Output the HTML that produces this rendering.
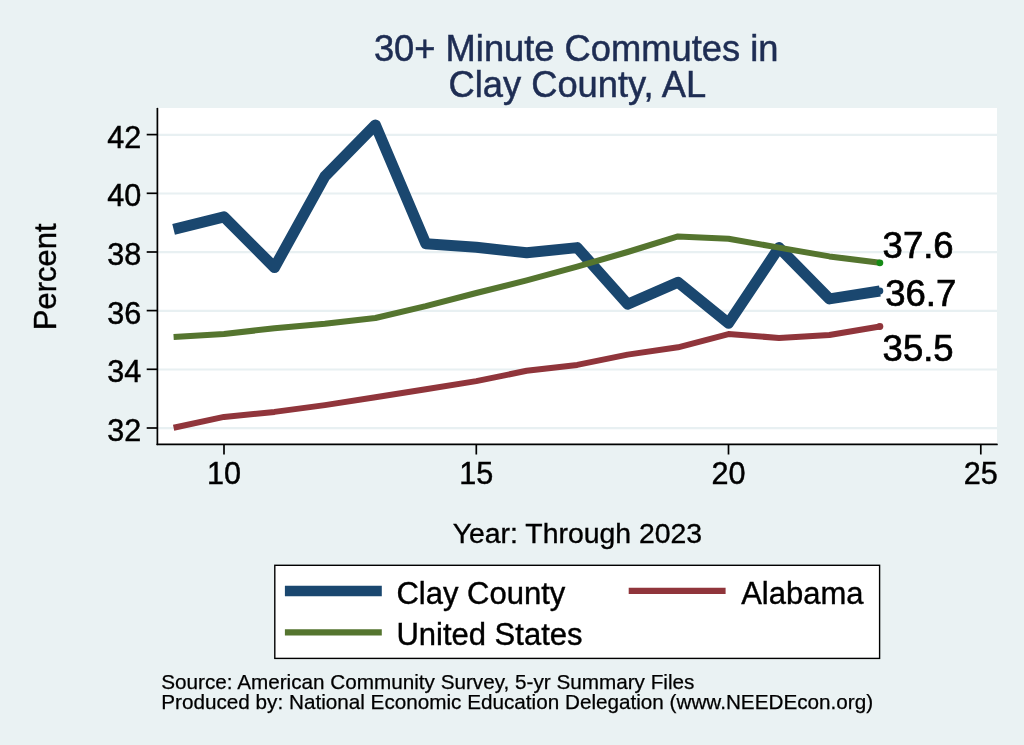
<!DOCTYPE html>
<html><head><meta charset="utf-8"><title>30+ Minute Commutes in Clay County, AL</title>
<style>
html,body{margin:0;padding:0;background:#eaf2f3;}
svg{display:block;font-family:"Liberation Sans",Arial,Helvetica,sans-serif;}
</style></head><body>
<svg width="1024" height="745" viewBox="0 0 1024 745">
<rect width="1024" height="745" fill="#eaf2f3"/>
<rect x="157.5" y="108" width="839.5" height="336.5" fill="#fff"/>
<line x1="158" x2="997" y1="428.2" y2="428.2" stroke="#e8f0f2" stroke-width="2.2"/><line x1="158" x2="997" y1="369.5" y2="369.5" stroke="#e8f0f2" stroke-width="2.2"/><line x1="158" x2="997" y1="310.8" y2="310.8" stroke="#e8f0f2" stroke-width="2.2"/><line x1="158" x2="997" y1="252.2" y2="252.2" stroke="#e8f0f2" stroke-width="2.2"/><line x1="158" x2="997" y1="193.5" y2="193.5" stroke="#e8f0f2" stroke-width="2.2"/><line x1="158" x2="997" y1="134.8" y2="134.8" stroke="#e8f0f2" stroke-width="2.2"/>
<polyline points="173.6,229.4 224.0,216.8 274.5,267.5 324.9,176.3 375.4,124.9 425.8,243.7 476.3,247.3 526.7,252.8 577.2,247.6 627.6,304.2 678.0,282.2 728.5,323.3 779.0,247.6 829.4,298.9 879.9,291.0" fill="none" stroke="#1a476f" stroke-width="11" stroke-linejoin="round"/>
<polyline points="173.6,427.7 224.0,416.9 274.5,411.9 324.9,405.1 375.4,397.2 425.8,389.3 476.3,381.1 526.7,370.8 577.2,364.9 627.6,354.6 678.0,347.3 728.5,334.1 779.0,337.9 829.4,335.0 879.9,326.5" fill="none" stroke="#90353b" stroke-width="6" stroke-linejoin="round"/>
<polyline points="173.6,337.0 224.0,334.1 274.5,328.2 324.9,323.8 375.4,318.0 425.8,306.2 476.3,293.0 526.7,280.4 577.2,266.6 627.6,252.0 678.0,236.4 728.5,238.8 779.0,247.6 829.4,256.4 879.9,262.8" fill="none" stroke="#55752f" stroke-width="6" stroke-linejoin="round"/>
<circle cx="879.9" cy="291.0" r="3.4" fill="#1a476f"/>
<circle cx="879.9" cy="326.5" r="3.4" fill="#90353b"/>
<circle cx="879.9" cy="262.8" r="3.4" fill="#158a15"/>
<line x1="157.4" x2="157.4" y1="108.5" y2="444.3" stroke="#000" stroke-width="1.7" stroke-linecap="round"/>
<line x1="157.2" x2="997" y1="444.45" y2="444.45" stroke="#000" stroke-width="1.7" stroke-linecap="round"/>
<line x1="146.7" x2="157.2" y1="428.0" y2="428.0" stroke="#000" stroke-width="1.7"/><text x="141.3" y="441.0" text-anchor="end" font-size="30.6" stroke="#000" stroke-width="0.45">32</text><line x1="146.7" x2="157.2" y1="369.3" y2="369.3" stroke="#000" stroke-width="1.7"/><text x="141.3" y="382.3" text-anchor="end" font-size="30.6" stroke="#000" stroke-width="0.45">34</text><line x1="146.7" x2="157.2" y1="310.6" y2="310.6" stroke="#000" stroke-width="1.7"/><text x="141.3" y="323.6" text-anchor="end" font-size="30.6" stroke="#000" stroke-width="0.45">36</text><line x1="146.7" x2="157.2" y1="252.0" y2="252.0" stroke="#000" stroke-width="1.7"/><text x="141.3" y="265.0" text-anchor="end" font-size="30.6" stroke="#000" stroke-width="0.45">38</text><line x1="146.7" x2="157.2" y1="193.3" y2="193.3" stroke="#000" stroke-width="1.7"/><text x="141.3" y="206.3" text-anchor="end" font-size="30.6" stroke="#000" stroke-width="0.45">40</text><line x1="146.7" x2="157.2" y1="134.6" y2="134.6" stroke="#000" stroke-width="1.7"/><text x="141.3" y="147.6" text-anchor="end" font-size="30.6" stroke="#000" stroke-width="0.45">42</text>
<line x1="224.0" x2="224.0" y1="444" y2="454.5" stroke="#000" stroke-width="1.7"/><text x="224.0" y="484" text-anchor="middle" font-size="30.6" stroke="#000" stroke-width="0.45">10</text><line x1="476.3" x2="476.3" y1="444" y2="454.5" stroke="#000" stroke-width="1.7"/><text x="476.3" y="484" text-anchor="middle" font-size="30.6" stroke="#000" stroke-width="0.45">15</text><line x1="728.5" x2="728.5" y1="444" y2="454.5" stroke="#000" stroke-width="1.7"/><text x="728.5" y="484" text-anchor="middle" font-size="30.6" stroke="#000" stroke-width="0.45">20</text><line x1="980.8" x2="980.8" y1="444" y2="454.5" stroke="#000" stroke-width="1.7"/><text x="980.8" y="484" text-anchor="middle" font-size="30.6" stroke="#000" stroke-width="0.45">25</text>
<text transform="translate(882.6,258) scale(1,1)" font-size="36.5" stroke="#000" stroke-width="0.7">37.6</text>
<text transform="translate(885.2,306) scale(1,1)" font-size="36.5" stroke="#000" stroke-width="0.7">36.7</text>
<text transform="translate(882.6,360.5) scale(1,1)" font-size="36.5" stroke="#000" stroke-width="0.7">35.5</text>
<text x="576.2" y="60.5" text-anchor="middle" font-size="36.3" fill="#1e2d53" stroke="#1e2d53" stroke-width="0.5">30+ Minute Commutes in</text>
<text x="577.3" y="96.6" text-anchor="middle" font-size="36.3" fill="#1e2d53" stroke="#1e2d53" stroke-width="0.5">Clay County, AL</text>
<text transform="translate(56.3,276.8) rotate(-90)" text-anchor="middle" font-size="31" stroke="#000" stroke-width="0.4">Percent</text>
<text x="577.4" y="543.2" text-anchor="middle" font-size="28.4" stroke="#000" stroke-width="0.35">Year: Through 2023</text>
<rect x="274.8" y="565.3" width="604.8" height="93.1" fill="#fff" stroke="#000" stroke-width="1.4"/>
<line x1="284.9" x2="381.8" y1="591.1" y2="591.1" stroke="#1a476f" stroke-width="10.5"/>
<line x1="284.9" x2="381.8" y1="632.4" y2="632.4" stroke="#55752f" stroke-width="6.2"/>
<line x1="628.7" x2="725.6" y1="590.9" y2="590.9" stroke="#90353b" stroke-width="6.2"/>
<text x="396.4" y="604" font-size="31" stroke="#000" stroke-width="0.4">Clay County</text>
<text x="396.4" y="644.8" font-size="31" stroke="#000" stroke-width="0.4">United States</text>
<text x="741.2" y="604" font-size="31" stroke="#000" stroke-width="0.4">Alabama</text>
<text x="161.3" y="688.8" font-size="20.7" stroke="#000" stroke-width="0.25">Source: American Community Survey, 5-yr Summary Files</text>
<text x="161.3" y="709.1" font-size="20.7" stroke="#000" stroke-width="0.25">Produced by: National Economic Education Delegation (www.NEEDEcon.org)</text>
</svg>
</body></html>
